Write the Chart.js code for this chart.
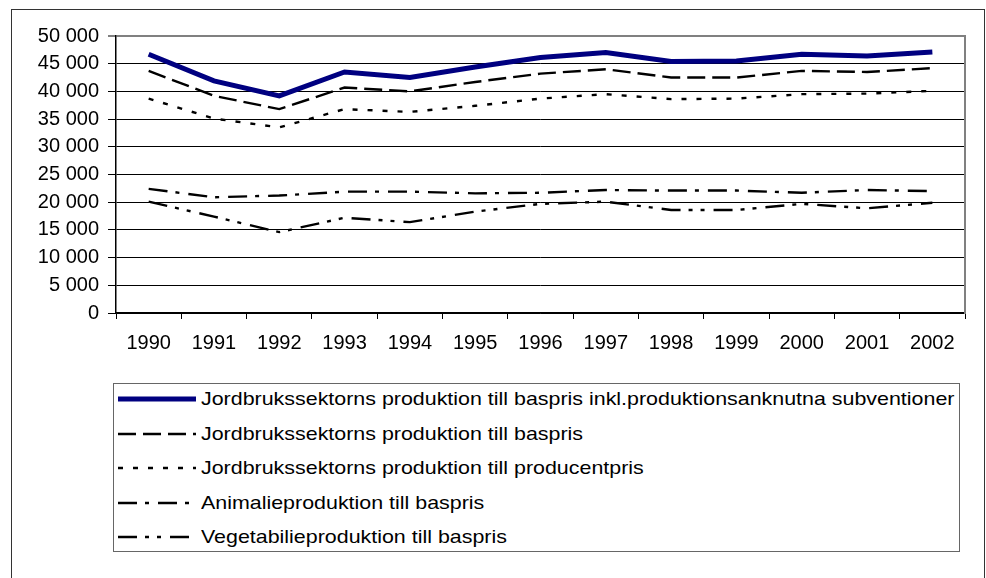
<!DOCTYPE html>
<html>
<head>
<meta charset="utf-8">
<script src="https://cdn.jsdelivr.net/npm/chart.js@4/dist/chart.umd.min.js"></script>
<style>
  html, body { margin: 0; padding: 0; background: #fff; }
  #frame { position: absolute; left: 11px; top: 9px; width: 972px; height: 600px; border: 1px solid #333; }
  #wrap { position: absolute; left: 0; top: 0; width: 986px; height: 380px; }
  #legend {
    position: absolute; left: 113px; top: 383px; width: 845px; height: 167px;
    border: 1px solid #666; background: #fff;
    font-family: 'Liberation Sans', Arial, sans-serif; font-size: 19px; color: #000;
  }
  #legend ul { list-style: none; margin: -2px 0 0 0; padding: 0; }
  #legend li { height: 34.5px; display: flex; align-items: center; white-space: nowrap; }
  #legend svg { margin: 0 5px 0 4px; flex: none; }
  #legend span { display: inline-block; transform: scaleX(1.127); transform-origin: left center; }
</style>
</head>
<body>
<div id="frame"></div>
<div id="wrap"><canvas id="chart" width="986" height="380"></canvas></div>
<div id="legend"></div>
<script>
const years = ['1990', '1991', '1992', '1993', '1994', '1995', '1996', '1997', '1998', '1999', '2000', '2001', '2002'];

const inklSubventioner = [46700, 41900, 39200, 43500, 42500, 44400, 46100, 47000, 45400, 45500, 46700, 46400, 47100];
const basPris = [43700, 39200, 36800, 40700, 40000, 41700, 43200, 44000, 42500, 42500, 43700, 43500, 44200];
const producentPris = [38700, 35100, 33500, 36800, 36300, 37400, 38700, 39500, 38600, 38700, 39500, 39600, 40100];
const animalie = [22400, 20900, 21200, 21900, 21900, 21600, 21700, 22200, 22100, 22100, 21700, 22200, 22000];
const vegetabilie = [20100, 17400, 14600, 17200, 16400, 18300, 19700, 20100, 18600, 18600, 19700, 18900, 19900];

const seriesNames = [
    'Jordbrukssektorns produktion till baspris inkl.produktionsanknutna subventioner',
    'Jordbrukssektorns produktion till baspris',
    'Jordbrukssektorns produktion till producentpris',
    'Animalieproduktion till baspris',
    'Vegetabilieproduktion till baspris'
];

const FONT = "'Liberation Sans', Arial, sans-serif";

// tusental med mellanslag: 50 000
function formatTick(v) {
    return String(v).replace(/\B(?=(\d{3})+(?!\d))/g, ' ');
}

function makeLine(label, data, color, width, dash) {
    return {
        label: label,
        data: data,
        borderColor: color,
        backgroundColor: color,
        borderWidth: width,
        borderDash: dash,
        pointRadius: 0,
        pointHoverRadius: 0,
        tension: 0,
        fill: false
    };
}

const ctx = document.getElementById('chart').getContext('2d');
const chart = new Chart(ctx, {
    type: 'line',
    data: {
        labels: years,
        datasets: [
            makeLine(seriesNames[0], inklSubventioner, '#000080', 5, []),
            makeLine(seriesNames[1], basPris, '#000', 2.4, [18, 7]),
            makeLine(seriesNames[2], producentPris, '#000', 2.4, [5, 10]),
            makeLine(seriesNames[3], animalie, '#000', 2.4, [19, 8, 4, 9]),
            makeLine(seriesNames[4], vegetabilie, '#000', 2.4, [19, 8, 4, 8, 4, 9])
        ]
    },
    options: {
        responsive: false,
        animation: false,
        layout: { padding: { left: 0, right: 21, top: 36, bottom: 13 } },
        plugins: {
            legend: { display: false },
            tooltip: { enabled: false }
        },
        scales: {
            x: {
                offset: true,
                grid: { offset: true, drawOnChartArea: false, drawTicks: true, tickLength: 6, color: '#000' },
                border: { color: '#000', width: 1.5 },
                ticks: { color: '#000', font: { family: FONT, size: 20 }, padding: 12, maxRotation: 0, autoSkip: false }
            },
            y: {
                min: 0,
                max: 50000,
                ticks: { stepSize: 5000, color: '#000', font: { family: FONT, size: 20 }, padding: 9, callback: v => formatTick(v) },
                grid: {
                    color: c => (c.tick && c.tick.value === 50000) ? '#808080' : '#000',
                    lineWidth: c => (c.tick && c.tick.value === 50000) ? 2 : 1,
                    tickLength: 8
                },
                border: { color: '#000', width: 1.5 },
                afterFit: s => { s.width = 116; }
            },
            y2: {
                position: 'right',
                min: 0,
                max: 50000,
                ticks: { display: false },
                grid: { drawOnChartArea: false, drawTicks: false },
                border: { color: '#808080', width: 2 }
            }
        }
    }
});

// HTML-legend, en serie per rad
function renderLegend(chart) {
    const items = chart.options.plugins.legend.labels.generateLabels(chart);
    const $ul = document.createElement('ul');
    items.forEach(item => {
        const li = document.createElement('li');
        const dash = (item.lineDash || []).join(' ');
        li.innerHTML = `<svg width="78" height="10"><line x1="0" y1="5" x2="78" y2="5" stroke="${item.strokeStyle}" stroke-width="${item.lineWidth}" stroke-dasharray="${dash}"/></svg><span>${item.text}</span>`;
        $ul.appendChild(li);
    });
    document.getElementById('legend').appendChild($ul);
}
renderLegend(chart);
</script>
</body>
</html>
